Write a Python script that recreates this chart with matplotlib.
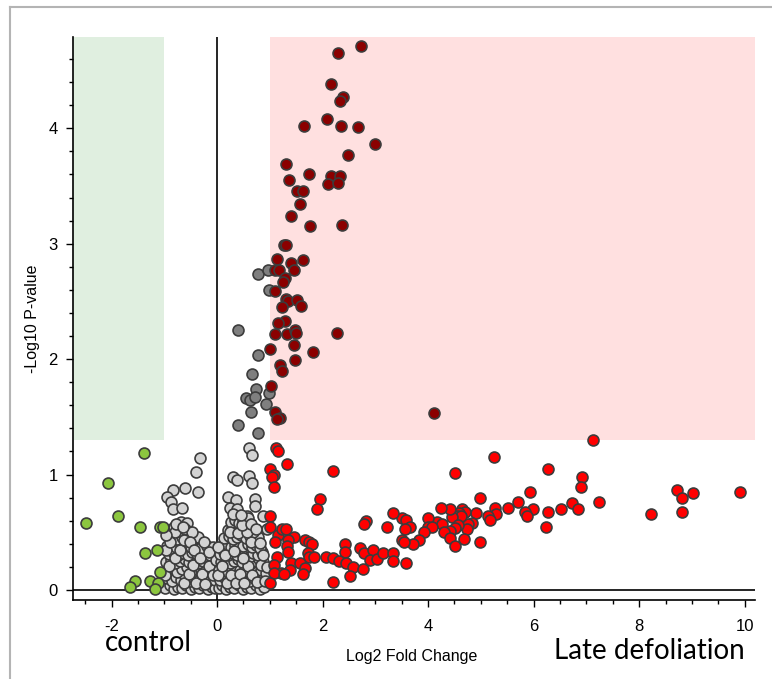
import matplotlib
matplotlib.use("Agg")
import matplotlib.pyplot as plt
from matplotlib.lines import Line2D
from matplotlib.ticker import MultipleLocator, FuncFormatter
import numpy as np

plt.rcParams['font.family'] = ['Liberation Sans', 'DejaVu Sans']
plt.rcParams['axes.unicode_minus'] = False

# significant up (dark red, -log10 p > 1.3 and log2fc > 1)
dark_red = [(2.72, 4.71), (2.30, 4.65), (2.16, 4.38), (2.39, 4.27), (2.33, 4.24), (2.08, 4.08),
            (1.64, 4.02), (2.35, 4.02), (2.67, 4.01), (2.99, 3.86), (2.48, 3.77), (1.30, 3.69),
            (1.74, 3.60), (2.16, 3.59), (2.33, 3.59), (1.37, 3.55), (2.11, 3.52), (2.30, 3.53),
            (1.52, 3.46), (1.62, 3.46), (1.57, 3.34), (1.40, 3.24), (1.77, 3.15), (2.37, 3.16),
            (1.26, 2.99), (1.31, 2.99), (1.13, 2.87), (1.40, 2.83), (1.62, 2.86), (1.10, 2.77),
            (1.18, 2.77), (1.45, 2.77), (1.28, 2.70), (1.25, 2.67), (1.10, 2.59), (1.31, 2.52),
            (1.35, 2.50), (1.52, 2.51), (1.60, 2.46), (1.23, 2.45), (1.28, 2.33), (1.16, 2.31),
            (1.10, 2.22), (1.32, 2.22), (1.48, 2.25), (1.50, 2.23), (2.27, 2.23), (1.45, 2.12),
            (1.00, 2.09), (1.82, 2.06), (1.47, 1.99), (1.20, 1.95), (1.23, 1.90), (1.03, 1.77),
            (1.10, 1.54), (1.19, 1.49), (1.14, 1.48), (4.11, 1.53)]

# fold change > 1 but not significant (red)
red = [(7.12, 1.30), (5.24, 1.15), (6.27, 1.05), (4.51, 1.01), (6.92, 0.98), (6.89, 0.89),
       (8.71, 0.87), (8.81, 0.80), (9.02, 0.84), (9.91, 0.85), (8.81, 0.68), (8.22, 0.66),
       (5.93, 0.85), (5.70, 0.76), (7.24, 0.76), (6.72, 0.75), (6.85, 0.70), (6.51, 0.70),
       (6.27, 0.68), (6.24, 0.55), (5.98, 0.70), (5.83, 0.68), (5.87, 0.64), (5.51, 0.71),
       (5.27, 0.71), (5.29, 0.66), (5.13, 0.64), (5.18, 0.61), (4.99, 0.80), (4.99, 0.42),
       (4.90, 0.67), (4.84, 0.58), (4.75, 0.57), (4.73, 0.53), (4.65, 0.70), (4.70, 0.68),
       (4.59, 0.67), (4.55, 0.64), (4.63, 0.64), (4.45, 0.63), (4.41, 0.70), (4.24, 0.71),
       (4.16, 0.59), (4.26, 0.57), (3.99, 0.62), (3.99, 0.55), (4.07, 0.55), (4.57, 0.56),
       (4.51, 0.54), (4.41, 0.51), (4.30, 0.50), (3.93, 0.50), (4.41, 0.45), (4.68, 0.44),
       (4.51, 0.38), (3.82, 0.43), (3.72, 0.40), (3.59, 0.23), (3.50, 0.62), (3.59, 0.61),
       (3.66, 0.55), (3.57, 0.53), (3.50, 0.43), (3.54, 0.42),
       (1.12, 1.23), (1.15, 1.20), (1.32, 1.09), (1.00, 1.05), (1.08, 1.00), (1.04, 0.98),
       (2.20, 1.03), (1.08, 0.89), (1.96, 0.79), (1.89, 0.70), (1.00, 0.64), (1.01, 0.55),
       (3.33, 0.67), (2.83, 0.60), (2.79, 0.57), (3.23, 0.55), (1.16, 0.48), (1.24, 0.53),
       (1.30, 0.53), (1.46, 0.46), (1.10, 0.42), (1.35, 0.43), (1.32, 0.38), (1.35, 0.33),
       (1.67, 0.43), (1.75, 0.42), (1.79, 0.40), (1.72, 0.32), (1.75, 0.29), (1.84, 0.29),
       (2.42, 0.40), (2.42, 0.33), (2.71, 0.36), (2.79, 0.32), (2.96, 0.35), (2.90, 0.26),
       (3.04, 0.27), (3.15, 0.32), (3.33, 0.32), (3.33, 0.25), (1.13, 0.29), (1.07, 0.22),
       (1.40, 0.23), (1.38, 0.17), (1.57, 0.23), (1.67, 0.19), (2.06, 0.29), (2.20, 0.28),
       (2.31, 0.25), (2.44, 0.23), (2.57, 0.20), (2.77, 0.18), (2.52, 0.12), (1.63, 0.14),
       (1.21, 0.15), (1.07, 0.15), (1.26, 0.14), (2.20, 0.07), (1.00, 0.06)]

# significant, small fold change (dark gray)
dark_gray = [(0.78, 2.74), (0.96, 2.77), (0.98, 2.60), (0.40, 2.25), (0.78, 2.04), (0.66, 1.87),
             (0.74, 1.74), (0.54, 1.66), (0.62, 1.65), (0.71, 1.67), (0.98, 1.71), (0.93, 1.61),
             (0.64, 1.54), (0.40, 1.43), (0.78, 1.36)]

# fold change < -1 (green, control)
green = [(-1.39, 1.19), (-2.07, 0.93), (-1.88, 0.64), (-2.49, 0.58), (-1.46, 0.55), (-1.09, 0.55),
         (-1.02, 0.55), (-1.36, 0.32), (-1.14, 0.35), (-1.56, 0.08), (-1.65, 0.03), (-1.27, 0.08),
         (-1.09, 0.16), (-1.12, 0.06), (-1.17, 0.01)]

# not significant (light gray)
light_gray = [
    (-0.32, 1.14), (-0.40, 1.02), (-0.36, 0.85), (-0.60, 0.88), (-0.83, 0.87), (-0.95, 0.81),
    (-0.87, 0.76), (-0.83, 0.70), (-0.67, 0.71), (0.61, 1.23), (0.67, 1.17), (0.61, 0.99),
    (0.31, 0.98), (0.37, 0.95), (0.67, 0.93), (0.20, 0.81), (0.35, 0.78), (0.72, 0.79),
    (0.72, 0.73), (0.25, 0.71), (0.38, 0.70), (0.87, 0.64), (0.56, 0.64), (0.94, 0.53),
    (-0.69, 0.59), (-0.57, 0.58),
    (-0.98, 0.02), (-0.90, 0.04), (-0.82, 0.01), (-0.74, 0.03), (-0.66, 0.02), (-0.58, 0.04),
    (-0.50, 0.01), (-0.42, 0.03), (-0.34, 0.02), (-0.26, 0.04), (-0.18, 0.01), (-0.10, 0.03),
    (-0.03, 0.02), (-0.95, 0.10), (-0.86, 0.08), (-0.77, 0.11), (-0.69, 0.09), (-0.60, 0.12),
    (-0.52, 0.08), (-0.44, 0.10), (-0.35, 0.09), (-0.27, 0.11), (-0.19, 0.08), (-0.11, 0.10),
    (-0.04, 0.09), (-0.93, 0.17), (-0.84, 0.19), (-0.75, 0.16), (-0.66, 0.18), (-0.57, 0.20),
    (-0.48, 0.16), (-0.40, 0.18), (-0.31, 0.17), (-0.22, 0.19), (-0.14, 0.16), (-0.06, 0.18),
    (-0.96, 0.24), (-0.88, 0.26), (-0.79, 0.23), (-0.70, 0.25), (-0.61, 0.27), (-0.53, 0.24),
    (-0.44, 0.26), (-0.36, 0.23), (-0.27, 0.25), (-0.18, 0.27), (-0.10, 0.24), (-0.91, 0.31),
    (-0.83, 0.33), (-0.74, 0.30), (-0.65, 0.32), (-0.56, 0.30), (-0.47, 0.33), (-0.38, 0.31),
    (-0.24, 0.32), (-0.13, 0.30), (-0.05, 0.33), (-0.94, 0.38), (-0.86, 0.40), (-0.77, 0.37),
    (-0.68, 0.39), (-0.59, 0.41), (-0.50, 0.37), (-0.41, 0.39), (-0.30, 0.36), (-0.20, 0.38),
    (-0.08, 0.37), (-0.92, 0.45), (-0.84, 0.47), (-0.75, 0.44), (-0.66, 0.46), (-0.55, 0.48),
    (-0.46, 0.44), (-0.37, 0.46), (-0.90, 0.52), (-0.82, 0.55), (-0.72, 0.51), (-0.60, 0.53),
    (-0.48, 0.50),
    (-0.99, 0.13), (-0.91, 0.21), (-0.80, 0.28), (-0.71, 0.35), (-0.62, 0.06), (-0.54, 0.14),
    (-0.45, 0.22), (-0.39, 0.06), (-0.29, 0.14), (-0.23, 0.05), (-0.15, 0.21), (-0.07, 0.13),
    (-0.02, 0.26), (-0.97, 0.35), (-0.89, 0.42), (-0.80, 0.50), (-0.63, 0.43), (-0.52, 0.42),
    (-0.43, 0.35), (-0.33, 0.28), (-0.16, 0.33), (-0.25, 0.42), (-0.78, 0.57), (-0.65, 0.55),
    (-0.97, 0.48),
    (0.03, 0.02), (0.10, 0.04), (0.17, 0.01), (0.25, 0.03), (0.33, 0.02), (0.41, 0.04),
    (0.49, 0.01), (0.57, 0.03), (0.65, 0.02), (0.73, 0.04), (0.81, 0.01), (0.89, 0.03),
    (0.06, 0.09), (0.14, 0.11), (0.22, 0.08), (0.30, 0.10), (0.38, 0.12), (0.46, 0.09),
    (0.54, 0.11), (0.62, 0.08), (0.70, 0.10), (0.78, 0.12), (0.86, 0.09), (0.04, 0.17),
    (0.12, 0.19), (0.20, 0.16), (0.28, 0.18), (0.36, 0.20), (0.44, 0.17), (0.52, 0.19),
    (0.60, 0.16), (0.68, 0.18), (0.76, 0.20), (0.84, 0.17), (0.92, 0.15), (0.08, 0.24),
    (0.16, 0.26), (0.24, 0.23), (0.32, 0.25), (0.40, 0.27), (0.48, 0.24), (0.56, 0.26),
    (0.64, 0.23), (0.72, 0.25), (0.80, 0.27), (0.88, 0.24), (0.05, 0.31), (0.13, 0.33),
    (0.21, 0.30), (0.29, 0.32), (0.37, 0.30), (0.45, 0.33), (0.53, 0.31), (0.61, 0.29),
    (0.69, 0.32), (0.77, 0.30), (0.85, 0.33), (0.10, 0.38), (0.18, 0.40), (0.26, 0.37),
    (0.34, 0.39), (0.42, 0.41), (0.50, 0.38), (0.58, 0.40), (0.66, 0.37), (0.74, 0.39),
    (0.82, 0.36), (0.14, 0.45), (0.22, 0.47), (0.30, 0.44), (0.38, 0.46), (0.46, 0.48),
    (0.54, 0.45), (0.62, 0.47), (0.70, 0.44), (0.78, 0.46), (0.20, 0.52), (0.28, 0.54),
    (0.36, 0.51), (0.44, 0.53), (0.52, 0.55), (0.60, 0.52), (0.68, 0.50), (0.26, 0.59),
    (0.34, 0.61), (0.42, 0.58), (0.50, 0.60), (0.58, 0.62),
    (0.01, 0.13), (0.09, 0.21), (0.18, 0.06), (0.27, 0.13), (0.35, 0.06), (0.43, 0.14),
    (0.51, 0.06), (0.59, 0.21), (0.67, 0.13), (0.75, 0.07), (0.83, 0.22), (0.91, 0.08),
    (0.02, 0.37), (0.15, 0.30), (0.33, 0.34), (0.49, 0.28), (0.65, 0.42), (0.81, 0.41),
    (0.88, 0.30), (0.95, 0.20), (0.24, 0.50), (0.40, 0.49), (0.56, 0.50), (0.47, 0.56),
    (0.31, 0.66), (0.45, 0.65), (0.64, 0.57), (0.73, 0.53)]

fc_cut = 1.0
p_cut = 1.3

fig = plt.figure(figsize=(7.72, 6.79), dpi=100)
ax = fig.add_axes([0.0946, 0.1163, 0.883, 0.829])
ax.set_xlim(-2.73, 10.19)
ax.set_ylim(-0.087, 4.79)

# shaded regions
ax.axvspan(-2.73, -fc_cut, ymin=(p_cut + 0.087) / 4.877, ymax=1, color='#e0efe0', lw=0, zorder=0)
ax.axvspan(fc_cut, 10.19, ymin=(p_cut + 0.087) / 4.877, ymax=1, color='#ffe0e0', lw=0, zorder=0)

ax.axhline(0, color='black', lw=1.2, zorder=1)
ax.axvline(0, color='black', lw=1.2, zorder=1)

kw = dict(s=62, edgecolors='#3c3c3c', linewidths=1.2, zorder=3)
for pts, col in [(light_gray, '#d3d3d3'), (dark_gray, '#7f7f7f'), (green, '#8cc63f'),
                 (red, '#ff0000'), (dark_red, '#8b0000')]:
    a = np.array(pts)
    ax.scatter(a[:, 0], a[:, 1], c=col, **kw)

for s in ['top', 'right']:
    ax.spines[s].set_visible(False)
ax.spines['left'].set_linewidth(1.2)
ax.spines['bottom'].set_linewidth(1.2)

ax.xaxis.set_major_locator(MultipleLocator(2))
ax.xaxis.set_minor_locator(MultipleLocator(0.5))
ax.yaxis.set_major_locator(MultipleLocator(1))
ax.yaxis.set_minor_locator(MultipleLocator(0.2))
ax.xaxis.set_major_formatter(FuncFormatter(lambda v, p: '%d' % round(v)))
ax.yaxis.set_major_formatter(FuncFormatter(lambda v, p: '%d' % round(v)))
ax.tick_params(which='major', length=5, width=1, labelsize=12)
ax.tick_params(which='minor', length=2.8, width=1)
ax.tick_params(axis='x', which='major', pad=9)
ax.tick_params(axis='y', which='major', pad=6)

ax.set_xlabel('Log2 Fold Change', fontsize=11.5)
ax.set_ylabel('-Log10 P-value', fontsize=11.5)
ax.xaxis.set_label_coords(0.497, -0.087)
ax.yaxis.set_label_coords(-0.049, 0.5)

fig.text(0.192, 0.053, 'control', fontsize=20, family=['Lato', 'DejaVu Sans'], ha='center', va='center')
fig.text(0.841, 0.041, 'Late defoliation', fontsize=20, family=['Lato', 'DejaVu Sans'], ha='center', va='center')

# outer frame
x0 = 10 / 772
y0 = 1 - 7 / 679
fig.add_artist(Line2D([x0, x0], [0, y0], color='#b4b4b4', lw=1.5, transform=fig.transFigure))
fig.add_artist(Line2D([x0, 1], [y0, y0], color='#b4b4b4', lw=1.5, transform=fig.transFigure))

fig.savefig('out.png', dpi=100)
